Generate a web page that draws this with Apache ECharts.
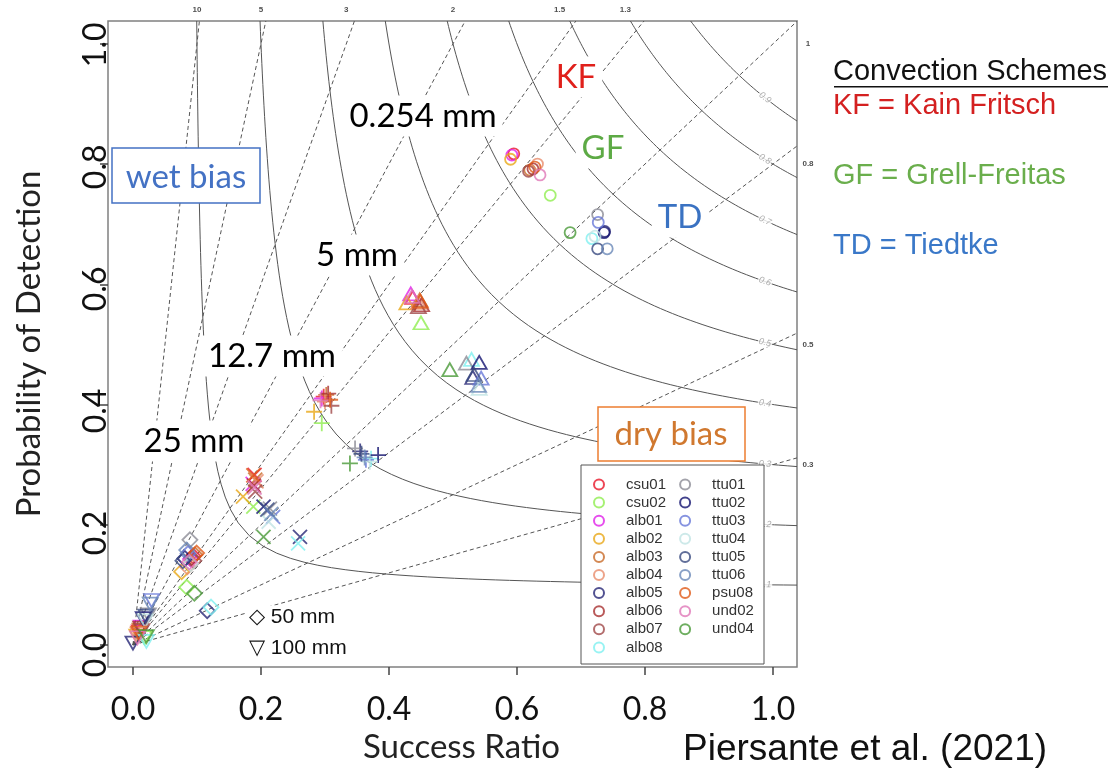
<!DOCTYPE html>
<html>
<head>
<meta charset="UTF-8">
<title>Performance diagram</title>
<script type="text/javascript" src="https://cdn.jsdelivr.net/npm/echarts@6/dist/echarts.min.js"></script>
<style>
  body{margin:0;background:#fff}
</style>
</head>
<body>
<div id="main" style="width:1112px;height:771px"></div>
<script type="text/javascript">
// models, in legend order
var models = ['csu01','csu02','alb01','alb02','alb03','alb04','alb05','alb06','alb07','alb08',
              'ttu01','ttu02','ttu03','ttu04','ttu05','ttu06','psu08','und02','und04'];
var modelColors = ['#e8182a','#90ee50','#e020e8','#e8a818','#c86a28','#e88c6c','#252575','#a83030','#a04848','#80f0f0',
                   '#8c8c96','#141470','#6878d8','#c0e4e4','#384a80','#6a88b8','#e05a18','#e078b8','#4a9a38'];

// thresholds and the values (success ratio / POD), one entry per model
var thresholds = ['0.254 mm','5 mm','12.7 mm','25 mm','50 mm','100 mm'];
var sr254  = [0.595,0.652,0.592,0.590,0.620,0.632,0.737,0.625,0.618,0.717,0.726,0.736,0.727,0.722,0.726,0.741,0.628,0.636,0.683];
var pod254 = [0.817,0.748,0.815,0.808,0.790,0.800,0.688,0.792,0.788,0.676,0.716,0.686,0.703,0.680,0.659,0.659,0.795,0.782,0.686];
var sr5    = [0.437,0.450,0.434,0.428,0.448,0.446,0.531,0.451,0.446,0.529,0.521,0.541,0.544,0.541,0.533,0.540,0.449,0.436,0.495];
var pod5   = [0.578,0.536,0.584,0.569,0.574,0.570,0.445,0.566,0.563,0.475,0.469,0.470,0.444,0.427,0.450,0.432,0.572,0.580,0.458];
var sr127  = [0.298,0.295,0.295,0.283,0.302,0.300,0.355,0.305,0.310,0.372,0.347,0.383,0.364,0.370,0.357,0.362,0.308,0.293,0.339];
var pod127 = [0.413,0.369,0.410,0.388,0.416,0.405,0.322,0.418,0.398,0.310,0.327,0.316,0.308,0.305,0.318,0.312,0.408,0.407,0.302];
var sr25   = [0.190,0.188,0.187,0.172,0.191,0.193,0.261,0.189,0.191,0.258,0.214,0.204,0.219,0.212,0.210,0.216,0.188,0.190,0.204];
var pod25  = [0.283,0.230,0.268,0.247,0.275,0.272,0.180,0.265,0.255,0.169,0.227,0.230,0.213,0.205,0.225,0.218,0.282,0.262,0.180];
var sr50   = [0.094,0.084,0.090,0.076,0.097,0.085,0.116,0.092,0.095,0.122,0.089,0.081,0.086,0.090,0.078,0.084,0.0995,0.088,0.096];
var pod50  = [0.148,0.096,0.143,0.122,0.150,0.130,0.057,0.145,0.140,0.063,0.175,0.144,0.152,0.135,0.140,0.158,0.153,0.138,0.086];
var sr100  = [0.010,0.018,0.013,0.006,0.011,0.008,0.000,0.012,0.014,0.021,0.024,0.016,0.029,0.019,0.020,0.027,0.009,0.007,0.021];
var pod100 = [0.022,0.012,0.030,0.015,0.025,0.018,0.003,0.028,0.024,0.006,0.050,0.044,0.074,0.040,0.048,0.068,0.020,0.012,0.014];

// diagram background: CSI contour levels and frequency bias lines
var csiLevels  = [0.1,0.2,0.3,0.4,0.5,0.6,0.7,0.8,0.9];
var biasLevels = [0.3,0.5,0.8,1,1.3,1.5,2,3,5,10];
var biasTop    = [10,5,3,2,1.5,1.3];
var biasRight  = [1,0.8,0.5,0.3];
var tickValues = [0,0.2,0.4,0.6,0.8,1.0];

var X_MIN = -0.039, X_MAX = 1.0375, Y_MIN = -0.0366, Y_MAX = 1.038;

var srSets  = [sr254, sr5, sr127, sr25, sr50, sr100];
var podSets = [pod254, pod5, pod127, pod25, pod50, pod100];
var symbols = ['circle','triangle','path://M5,0L5,10M0,5L10,5','path://M0,0L10,10M10,0L0,10','diamond','path://M0,0L10,0L5,9Z'];
var symSizes = [11, [15,13], 16, 14, 15, [15,13]];

function csiCurve(c) {
  var pts = [], d = 2 * c / (1 + c), k, p, s;
  for (k = 0; k <= 40; k++) {
    p = Y_MAX + (d - Y_MAX) * k / 40;
    pts.push([1 / (1 / c + 1 - 1 / p), p]);
  }
  for (k = 1; k <= 40; k++) {
    s = d + (X_MAX - d) * k / 40;
    pts.push([s, 1 / (1 / c + 1 - 1 / s)]);
  }
  return pts;
}

var series = [];

csiLevels.forEach(function (c) {
  series.push({
    type: 'line', silent: true, z: 1, showSymbol: false, animation: false,
    lineStyle: { color: '#555', width: 1 },
    data: csiCurve(c)
  });
});

biasLevels.forEach(function (b) {
  var end = b >= 1 ? [Y_MAX / b, Y_MAX] : [X_MAX, X_MAX * b];
  series.push({
    type: 'line', silent: true, z: 1, showSymbol: false, animation: false,
    lineStyle: { color: '#555', width: 1, type: [4, 3] },
    data: [[0, 0], end]
  });
});

// CSI labels near the right edge
series.push({
  type: 'scatter', silent: true, z: 2, clip: false, symbolSize: 1,
  itemStyle: { color: 'rgba(0,0,0,0)' },
  data: csiLevels.map(function (c) {
    var s = 0.9875, p = 1 / (1 / c + 1 - 1 / s);
    var ang = Math.atan(p * p / (s * s) * 601 / 640) * 180 / Math.PI;
    return { value: [s, p], label: { rotate: -ang } };
  }),
  label: {
    show: true, position: 'inside', formatter: function (d) { return String(csiLevels[d.dataIndex]); },
    fontFamily: 'Liberation Sans', fontSize: 9, color: '#999', fontStyle: 'italic',
    backgroundColor: '#fff', padding: [0, 1]
  }
});

// bias labels, top and right margins
series.push({
  type: 'scatter', silent: true, z: 2, clip: false, symbolSize: 1,
  itemStyle: { color: 'rgba(0,0,0,0)' },
  data: biasTop.map(function (b) { return { value: [1 / b, 1.0566], name: String(b) }; })
    .concat(biasRight.map(function (b) { return { value: [1.0547, b], name: String(b) }; })),
  label: {
    show: true, position: 'inside', formatter: '{b}',
    fontFamily: 'Liberation Sans', fontSize: 8, fontWeight: 'bold', color: '#222'
  }
});

models.forEach(function (m, i) {
  series.push({
    type: 'scatter', name: m, z: 5, animation: false,
    itemStyle: { color: 'rgba(0,0,0,0)', borderColor: modelColors[i], borderWidth: 1.8 },
    emphasis: { disabled: true },
    data: thresholds.map(function (t, k) {
      return { value: [srSets[k][i], podSets[k][i]], symbol: symbols[k], symbolSize: symSizes[k] };
    })
  });
});

var lato = 'Lato, "Open Sans", sans-serif';
var arial = '"Liberation Sans", Arial, sans-serif';

function overlay(text, x, y, size, color) {
  return {
    type: 'text', z: 3, x: x, y: y,
    style: { text: text, font: size + 'px ' + lato, fill: color, align: 'center', verticalAlign: 'middle',
             backgroundColor: '#fff', padding: [4, 6] }
  };
}

var option = {
  backgroundColor: '#fff',
  animation: false,
  grid: { left: 108, right: 315, top: 21, bottom: 104, show: true, borderColor: '#808080', borderWidth: 1.5 },
  xAxis: [{
    type: 'value', min: X_MIN, max: X_MAX,
    axisLine: { show: false, onZero: false }, splitLine: { show: false },
    axisTick: { show: true, customValues: tickValues, length: 8, lineStyle: { color: '#444', width: 1.5 } },
    axisLabel: { customValues: tickValues, formatter: function (v) { return v.toFixed(1); },
                 fontFamily: lato, fontSize: 32, color: '#111', margin: 27 },
    name: 'Success Ratio', nameLocation: 'middle', nameGap: 60,
    nameTextStyle: { fontFamily: lato, fontSize: 33, color: '#222', padding: [0, 0, 0, 18] }
  }],
  yAxis: [{
    type: 'value', min: Y_MIN, max: Y_MAX, position: 'left', offset: 0,
    axisLine: { show: false, onZero: false }, splitLine: { show: false },
    axisTick: { show: true, customValues: tickValues, length: 8, lineStyle: { color: '#444', width: 1.5 } },
    axisLabel: { show: false }
  }, {
    type: 'value', min: -0.0197, max: 1.039, position: 'left', offset: 0,
    axisLine: { show: false, onZero: false }, splitLine: { show: false }, axisTick: { show: false },
    axisLabel: { customValues: tickValues, formatter: function (v) { return v.toFixed(1); }, rotate: 90,
                 fontFamily: lato, fontSize: 32, color: '#111', margin: -4 },
    name: 'Probability of Detection', nameLocation: 'middle', nameGap: 62, nameRotate: 90,
    nameTextStyle: { fontFamily: lato, fontSize: 33, color: '#222' }
  }],
  legend: {
    left: 593, top: 477, orient: 'vertical', height: 182, padding: 0,
    itemWidth: 10, itemHeight: 10, itemGap: 3.1, selectedMode: false, z: 6,
    textStyle: { fontFamily: arial, fontSize: 15, color: '#333', width: 50, lineHeight: 12, height: 12,
                 padding: [0, 0, 0, 17] },
    data: models.map(function (m, i) {
      return { name: m, icon: 'circle', itemStyle: { color: 'rgba(0,0,0,0)', borderColor: modelColors[i], borderWidth: 2 } };
    })
  },
  graphic: [
    overlay('0.254 mm', 423, 116, 33, '#000'),
    overlay('5 mm', 357, 255, 33, '#000'),
    overlay('12.7 mm', 272, 356, 33, '#000'),
    overlay('25 mm', 194, 441, 33, '#000'),
    overlay('KF', 576, 77, 33, '#e0201b'),
    overlay('GF', 603, 148, 33, '#5daa45'),
    overlay('TD', 680, 217, 33, '#3a72c2'),
    { type: 'rect', z: 3, shape: { x: 112, y: 148, width: 148, height: 55 },
      style: { fill: '#fff', stroke: '#4472c4', lineWidth: 1.5 } },
    { type: 'text', z: 4, x: 186, y: 177,
      style: { text: 'wet bias', font: '33px ' + lato, fill: '#4472c4', align: 'center', verticalAlign: 'middle' } },
    { type: 'rect', z: 3, shape: { x: 598, y: 407, width: 147, height: 54 },
      style: { fill: '#fff', stroke: '#ed7d31', lineWidth: 1.5 } },
    { type: 'text', z: 4, x: 671, y: 434,
      style: { text: 'dry bias', font: '33px ' + lato, fill: '#d0782f', align: 'center', verticalAlign: 'middle' } },
    { type: 'rect', z: 3, shape: { x: 581, y: 465, width: 183, height: 199 },
      style: { fill: '#fff', stroke: '#555', lineWidth: 1 } },
    { type: 'text', z: 3, x: 247, y: 617,
      style: { text: '\u25C7 50 mm', font: '21px ' + arial, fill: '#111', verticalAlign: 'middle',
               backgroundColor: '#fff', padding: [1, 2] } },
    { type: 'text', z: 3, x: 247, y: 648,
      style: { text: '\u25BD 100 mm', font: '21px ' + arial, fill: '#111', verticalAlign: 'middle',
               backgroundColor: '#fff', padding: [1, 2] } },
    { type: 'text', x: 833, y: 72,
      style: { text: 'Convection Schemes', font: '29px ' + arial, fill: '#111', verticalAlign: 'middle' } },
    { type: 'rect', shape: { x: 834, y: 86, width: 274, height: 1.5 }, style: { fill: '#111' } },
    { type: 'text', x: 833, y: 106,
      style: { text: 'KF = Kain Fritsch', font: '29px ' + arial, fill: '#d42020', verticalAlign: 'middle' } },
    { type: 'text', x: 833, y: 176,
      style: { text: 'GF = Grell-Freitas', font: '29px ' + arial, fill: '#6aae4c', verticalAlign: 'middle' } },
    { type: 'text', x: 833, y: 246,
      style: { text: 'TD = Tiedtke', font: '29px ' + arial, fill: '#3a78c8', verticalAlign: 'middle' } },
    { type: 'text', x: 683, y: 750,
      style: { text: 'Piersante et al. (2021)', font: '37px ' + arial, fill: '#111', verticalAlign: 'middle' } }
  ],
  series: series
};

var myEcharts = echarts.init(document.getElementById('main'));
myEcharts.setOption(option);
</script>
</body>
</html>
